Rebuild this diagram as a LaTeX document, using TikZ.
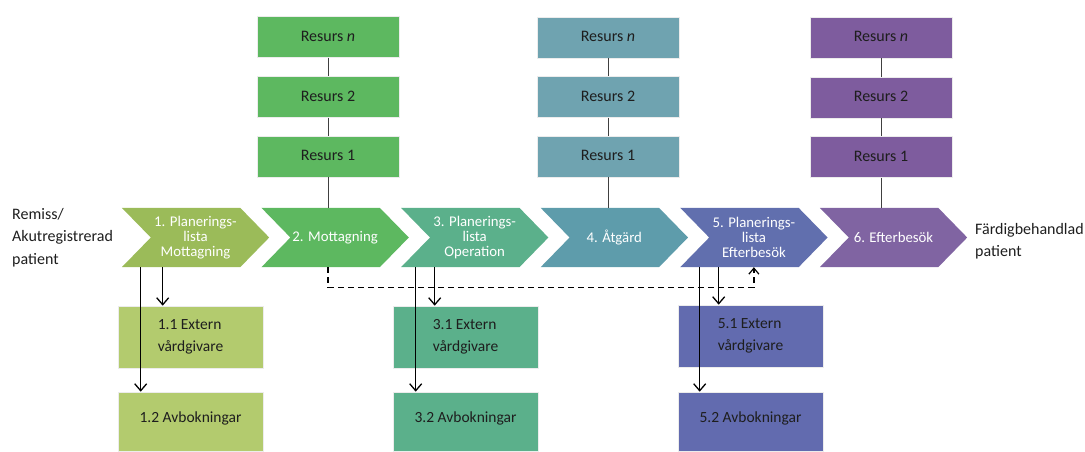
\documentclass[tikz,border=0pt]{standalone}
\usepackage{fontspec}
\setmainfont{Carlito}
\usetikzlibrary{arrows.meta,backgrounds}

% palette
\definecolor{cOlive}{RGB}{155,187,89}
\definecolor{cOliveL}{RGB}{179,203,110}
\definecolor{cGreen}{RGB}{93,184,96}
\definecolor{cSea}{RGB}{91,176,139}
\definecolor{cTeal}{RGB}{94,156,171}
\definecolor{cTealL}{RGB}{111,163,176}
\definecolor{cBlue}{RGB}{97,111,174}
\definecolor{cBlueL}{RGB}{98,107,175}
\definecolor{cPurple}{RGB}{128,100,162}
\definecolor{cPurpleR}{RGB}{126,92,158}
\definecolor{txtdark}{RGB}{30,30,30}

\tikzset{
  chev/.style={minimum width=147pt, minimum height=59pt, inner sep=0pt,
    align=center, text=white, font=\fontsize{14.8}{15}\selectfont},
  resbox/.style={draw=white!85!gray, line width=0.6pt, fill=#1,
    minimum width=142pt, minimum height=41pt, inner sep=0pt,
    text=txtdark, font=\fontsize{16}{18}\selectfont},
  subbox/.style={draw=white!85!gray, line width=0.6pt, fill=#1,
    minimum width=145pt, inner sep=0pt, align=left,
    text=txtdark, font=\fontsize{15.5}{22}\selectfont},
  link/.style={draw=black!75, line width=1pt},
  arr/.style={draw=black, line width=1.4pt,
    -{Straight Barb[length=7pt,width=12pt,line width=1.3pt]}},
  dasharr/.style={draw=black, line width=1.3pt, dash pattern=on 6pt off 4pt,
    -{Straight Barb[length=6pt,width=10pt,line width=1.2pt]}},
  side/.style={align=left, inner sep=0pt, text=txtdark,
    font=\fontsize{16}{22.5}\selectfont}
}

% chevron outline behind a node
\newcommand{\chevfill}[2]{%
  \fill[#2] (#1.north west) -- ([xshift=-29pt]#1.north east) -- (#1.east)
    -- ([xshift=-29pt]#1.south east) -- (#1.south west)
    -- ([xshift=29pt]#1.west) -- cycle;}

\begin{document}
\begin{tikzpicture}[x=1pt,y=-1pt]
\useasboundingbox (0,0) rectangle (1085,451);

% process chevrons
\node[chev] (ch1) at (195.5,237.5) {1. Planerings-\\lista\\Mottagning};
\node[chev] (ch2) at (335.1,237.5) {2. Mottagning};
\node[chev] (ch3) at (474.7,237.5) {3. Planerings-\\lista\\Operation};
\node[chev] (ch4) at (614.3,237.5) {4. Åtgärd};
\node[chev] (ch5) at (753.9,237.5) {5. Planerings-\\lista\\Efterbesök};
\node[chev] (ch6) at (893.5,237.5) {6. Efterbesök};
\begin{scope}[on background layer]
  \chevfill{ch1}{cOlive}
  \chevfill{ch2}{cGreen}
  \chevfill{ch3}{cSea}
  \chevfill{ch4}{cTeal}
  \chevfill{ch5}{cBlue}
  \chevfill{ch6}{cPurple}
\end{scope}

% start and end labels
\node[side, anchor=west] (start) at (12,237.5) {Remiss/\\Akutregistrerad\\patient};
\node[side, anchor=west] (finish) at (975,241) {Färdigbehandlad\\patient};

% resource stacks
\node[resbox=cGreen] (g3) at (328,37) {\raisebox{2pt}{Resurs \textit{n}}};
\node[resbox=cGreen] (g2) at (328,97) {\raisebox{2pt}{Resurs 2}};
\node[resbox=cGreen] (g1) at (328,156.5) {\raisebox{2pt}{Resurs 1}};
\node[resbox=cTealL] (t3) at (608,37.5) {\raisebox{2pt}{Resurs \textit{n}}};
\node[resbox=cTealL] (t2) at (608,97) {\raisebox{2pt}{Resurs 2}};
\node[resbox=cTealL] (t1) at (608,156.5) {\raisebox{2pt}{Resurs 1}};
\node[resbox=cPurpleR] (p3) at (881,37.5) {\raisebox{2pt}{Resurs \textit{n}}};
\node[resbox=cPurpleR] (p2) at (881,97.5) {\raisebox{2pt}{Resurs 2}};
\node[resbox=cPurpleR] (p1) at (881,157) {\raisebox{2pt}{Resurs 1}};

\draw[link] (g3) -- (g2);
\draw[link] (g2) -- (g1);
\draw[link] (g1.south) -- (g1.south |- ch2.north);
\draw[link] (t3) -- (t2);
\draw[link] (t2) -- (t1);
\draw[link] (t1.south) -- (t1.south |- ch4.north);
\draw[link] (p3) -- (p2);
\draw[link] (p2) -- (p1);
\draw[link] (p1.south) -- (p1.south |- ch6.north);

% sub-steps below the planning lists
\node[subbox=cOliveL, minimum height=62pt] (s11) at (190.5,337) {1.1 Extern\\vårdgivare};
\node[subbox=cOliveL, minimum height=59pt] (s12) at (190.5,421.5) {\raisebox{8pt}{1.2 Avbokningar}};
\node[subbox=cSea, minimum height=62pt] (s31) at (465.5,337) {3.1 Extern\\vårdgivare};
\node[subbox=cSea, minimum height=59pt] (s32) at (465.5,421.5) {\raisebox{8pt}{3.2 Avbokningar}};
\node[subbox=cBlueL, minimum height=62pt] (s51) at (750.5,336) {5.1 Extern\\vårdgivare};
\node[subbox=cBlueL, minimum height=59pt] (s52) at (750.5,421.5) {\raisebox{8pt}{5.2 Avbokningar}};

% arrow columns
\coordinate (a11) at ([xshift=45pt]s11.north west);
\coordinate (a12) at ([xshift=23pt]s12.north west);
\coordinate (a31) at ([xshift=42pt]s31.north west);
\coordinate (a32) at ([xshift=23pt]s32.north west);
\coordinate (a51) at ([xshift=41pt]s51.north west);
\coordinate (a52) at ([xshift=22pt]s52.north west);
\draw[arr] (a12 |- ch1.south) -- (a12);
\draw[arr] (a11 |- ch1.south) -- (a11);
\draw[arr] (a32 |- ch3.south) -- (a32);
\draw[arr] (a31 |- ch3.south) -- (a31);
\draw[arr] (a52 |- ch5.south) -- (a52);
\draw[arr] (a51 |- ch5.south) -- (a51);

% return path from the visit to the follow-up planning list
\draw[dasharr] (ch2.south -| g1.south) |- ([yshift=-20pt]ch5.south) -- (ch5.south);
\end{tikzpicture}
\end{document}
